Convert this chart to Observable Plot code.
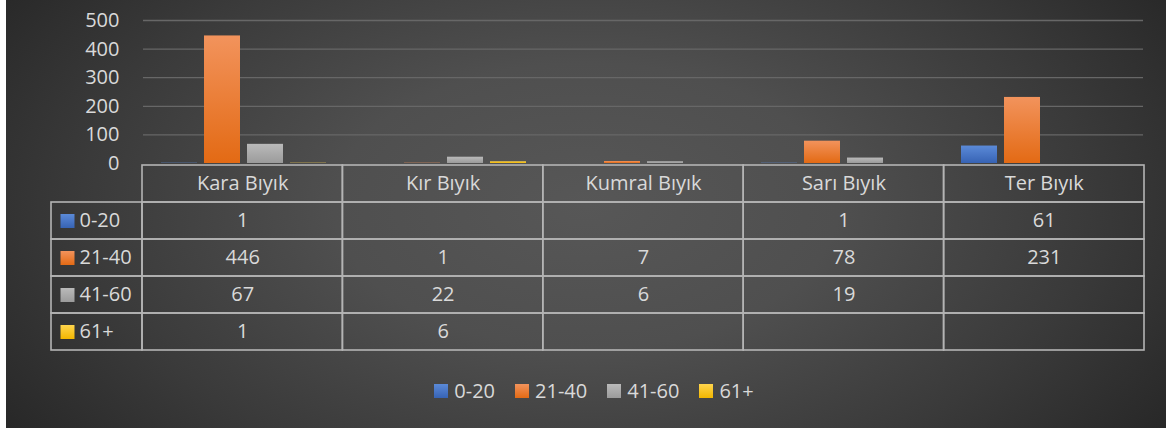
<!DOCTYPE html>
<html><head><meta charset="utf-8">
<script src="https://cdn.jsdelivr.net/npm/d3@7"></script>
<script src="https://cdn.jsdelivr.net/npm/@observablehq/plot@0.6"></script>
<style>
body{margin:0;background:#fff;}
#wrap{position:relative;width:1166px;height:431px;overflow:hidden;font-family:"Open Sans",sans-serif;}
#bg{position:absolute;left:6px;top:0;width:1160px;height:428px;
 background:radial-gradient(ellipse 62% 95% at 50% 48%, #575757 0%, #4f4f4f 35%, #3a3a3a 70%, #262626 100%);}
#bars,#table{position:absolute;left:0;}
#bars{top:0;}
#table{top:162px;}
#legend{position:absolute;top:377px;left:0;width:1188px;display:flex;justify-content:center;align-items:center;color:#d9d9d9;font-size:20px;}
#legend .item{display:flex;align-items:center;margin:0 10px;}
#legend .sw{width:14px;height:14px;margin-right:6px;}
</style>
</head><body>
<div id="wrap"><div id="bg"></div><div id="bars"></div><div id="table"></div><div id="legend"></div></div>
<script>
const categories = ["Kara Bıyık", "Kır Bıyık", "Kumral Bıyık", "Sarı Bıyık", "Ter Bıyık"];
const seriesNames = ["0-20", "21-40", "41-60", "61+"];
const values_0_20  = [1, null, null, 1, 61];
const values_21_40 = [446, 1, 7, 78, 231];
const values_41_60 = [67, 22, 6, 19, null];
const values_61p   = [1, 6, null, null, null];
const yTicks = [0, 100, 200, 300, 400, 500];
const baseColors = ["#4472c4", "#ed7d31", "#a5a5a5", "#ffc000"];
const gradTop = ["#5b8ad8", "#f2935c", "#bababa", "#ffd54d"];
const gradBottom = ["#3763b4", "#e36a14", "#9b9b9b", "#f2b600"];

const seriesValues = [values_0_20, values_21_40, values_41_60, values_61p];
const rows = [];
seriesNames.forEach((s, si) => categories.forEach((c, ci) => {
  rows.push({cat: c, ci, series: s, value: seriesValues[si][ci]});
}));
const barRows = rows.filter(d => d.value != null);
const gradIds = seriesNames.map((s, i) => "grad" + i);

const defs = () => {
  const d = d3.create("svg:defs");
  gradIds.forEach((id, i) => {
    const g = d.append("linearGradient").attr("id", id).attr("x1", 0).attr("y1", 0).attr("x2", 0).attr("y2", 1);
    g.append("stop").attr("offset", "0%").attr("stop-color", gradTop[i]);
    g.append("stop").attr("offset", "100%").attr("stop-color", gradBottom[i]);
  });
  return d.node();
};

const textColor = "#d9d9d9";
const font = "'Open Sans', sans-serif";

const bars = Plot.plot({
  width: 1166, height: 163,
  marginTop: 20, marginBottom: 0, marginLeft: 142, marginRight: 22,
  style: {background: "transparent", overflow: "visible", color: textColor, fontFamily: font, fontSize: "20px"},
  fx: {domain: categories, padding: 0, axis: null},
  x: {domain: seriesNames, paddingInner: 0.17, paddingOuter: 0.39, axis: null},
  y: {domain: [0, 500], axis: null},
  color: {domain: seriesNames, range: gradIds.map(id => `url(#${id})`)},
  marks: [
    defs,
    Plot.gridY(yTicks.slice(1), {stroke: "#676767", strokeOpacity: 1, strokeWidth: 1.3}),
    Plot.axisY(yTicks, {tickSize: 0, tickPadding: 24, fill: textColor, fontSize: 20, label: null, facetAnchor: "left"}),
    Plot.barY(barRows, {fx: "cat", x: "series", y: "value", fill: "series"})
  ]
});
document.getElementById("bars").appendChild(bars);

// Data table
const leftW = 91 / 200.4;
const tableRowsKeys = ["hdr", ...seriesNames];
const headerCells = categories.map((c, i) => ({i, row: "hdr", label: c}));
const bodyCells = rows.map(d => ({i: d.ci, row: d.series, label: d.value == null ? "" : String(d.value)}));
const labelCells = seriesNames.map(s => ({row: s, label: s}));
const borderColor = "#b4b4b4";

const table = Plot.plot({
  width: 1166, height: 191,
  marginTop: 1, marginBottom: 1, marginLeft: 51, marginRight: 22,
  style: {background: "transparent", overflow: "visible", color: textColor, fontFamily: font, fontSize: "20px"},
  x: {domain: [-leftW, 5], axis: null},
  y: {domain: tableRowsKeys, padding: 0, axis: null},
  color: {domain: seriesNames, range: gradIds.map(id => `url(#${id})`)},
  marks: [
    defs,
    Plot.barX([...headerCells, ...bodyCells], {x1: d => d.i, x2: d => d.i + 1, y: "row", fill: "none", stroke: borderColor, strokeWidth: 1.6, inset: 0}),
    Plot.barX(labelCells, {x1: () => -leftW, x2: () => 0, y: "row", fill: "none", stroke: borderColor, strokeWidth: 1.6, inset: 0}),
    Plot.text([...headerCells, ...bodyCells], {x: d => d.i + 0.5, y: "row", text: "label", fill: textColor, fontSize: 20}),
    Plot.dot(labelCells, {x: () => -leftW, y: "row", dx: 16, symbol: "square", r: 7.9, fill: "row", stroke: null}),
    Plot.text(labelCells, {x: () => -leftW, y: "row", dx: 28, text: "label", textAnchor: "start", fill: textColor, fontSize: 20})
  ]
});
document.getElementById("table").appendChild(table);

// Legend
const legend = d3.select("#legend");
seriesNames.forEach((s, i) => {
  const it = legend.append("div").attr("class", "item");
  it.append("div").attr("class", "sw").style("background", `linear-gradient(${gradTop[i]}, ${gradBottom[i]})`);
  it.append("span").text(s);
});
</script>
</body></html>
